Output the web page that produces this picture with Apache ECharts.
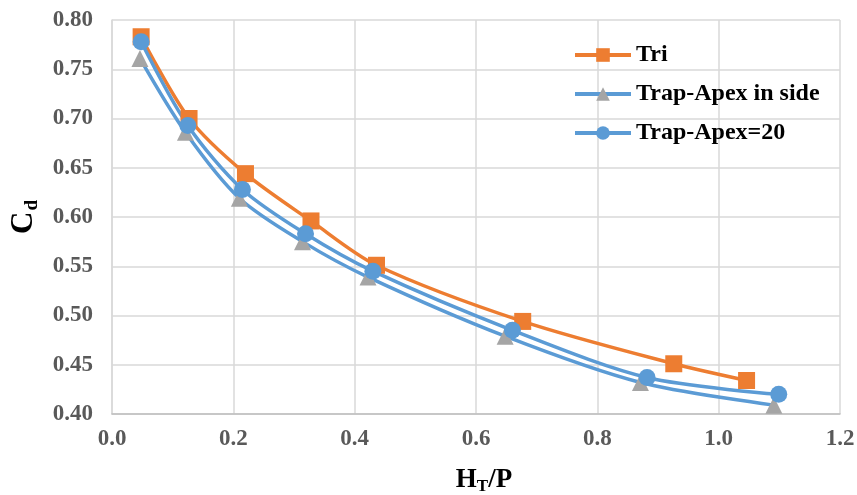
<!DOCTYPE html>
<html>
<head>
<meta charset="utf-8">
<script src="https://cdn.jsdelivr.net/npm/echarts@6/dist/echarts.min.js"></script>
<style>
  html, body { margin: 0; padding: 0; background: #fff; }
  #chart { width: 857px; height: 495px; }
</style>
</head>
<body>
<div id="chart"></div>
<script>
// Discharge coefficient Cd against relative head HT/P for three weir shapes
const seriesNames = ['Tri', 'Trap-Apex in side', 'Trap-Apex=20'];

const triX = [0.048, 0.127, 0.220, 0.328, 0.436, 0.677, 0.926, 1.046];
const triCd = [0.783, 0.700, 0.644, 0.596, 0.551, 0.494, 0.451, 0.434];

const sideX = [0.046, 0.121, 0.210, 0.314, 0.422, 0.648, 0.871, 1.091];
const sideCd = [0.761, 0.686, 0.619, 0.575, 0.539, 0.479, 0.432, 0.409];

const apexX = [0.048, 0.125, 0.215, 0.319, 0.430, 0.660, 0.882, 1.099];
const apexCd = [0.778, 0.693, 0.628, 0.583, 0.545, 0.485, 0.437, 0.420];

const pairs = (xs, ys) => xs.map((x, i) => [x, ys[i]]);

const font = '"Liberation Serif", "Times New Roman", serif';
const chart = echarts.init(document.getElementById('chart'), null, { renderer: 'canvas' });

chart.setOption({
  animation: false,
  backgroundColor: '#ffffff',
  grid: { left: 112, right: 17, top: 20, bottom: 81, containLabel: false, outerBoundsMode: 'none' },
  xAxis: {
    type: 'value', min: 0, max: 1.2, interval: 0.2,
    name: '{h|H}{s|T}{h|/P}', nameLocation: 'middle', nameGap: 52,
    nameTextStyle: {
      padding: [0, 0, 0, 16],
      rich: {
        h: { fontFamily: font, fontWeight: 'bold', fontSize: 27, color: '#000' },
        s: { fontFamily: font, fontWeight: 'bold', fontSize: 17, color: '#000', padding: [12, 0, 0, 0] }
      }
    },
    axisLine: { show: true, lineStyle: { color: '#BFBFBF', width: 1.5 } },
    axisTick: { show: false },
    splitLine: { show: true, lineStyle: { color: '#D9D9D9', width: 1.5 } },
    axisLabel: {
      margin: 14, color: '#595959', fontFamily: font, fontWeight: 'bold', fontSize: 23,
      formatter: v => v.toFixed(1)
    }
  },
  yAxis: {
    type: 'value', min: 0.40, max: 0.80, interval: 0.05,
    name: '{c|C}{s|d}', nameLocation: 'middle', nameGap: 70, nameRotate: 90,
    nameTextStyle: {
      rich: {
        c: { fontFamily: font, fontWeight: 'bold', fontSize: 31, color: '#000' },
        s: { fontFamily: font, fontWeight: 'bold', fontSize: 19, color: '#000', padding: [17, 0, 0, 1] }
      }
    },
    axisLine: { show: true, lineStyle: { color: '#D9D9D9', width: 1.5 } },
    axisTick: { show: false },
    splitLine: { show: true, lineStyle: { color: '#D9D9D9', width: 1.5 } },
    axisLabel: {
      margin: 19, color: '#595959', fontFamily: font, fontWeight: 'bold', fontSize: 23,
      formatter: v => v.toFixed(2)
    }
  },
  legend: {
    orient: 'vertical', left: 568, top: 38, itemGap: 15,
    itemWidth: 56, itemHeight: 17,
    lineStyle: { width: 4 },
    textStyle: { fontFamily: font, fontWeight: 'bold', fontSize: 24, color: '#000' },
    data: seriesNames
  },
  series: [
    {
      name: seriesNames[0], type: 'line', smooth: 0.3, data: pairs(triX, triCd),
      symbol: 'rect', symbolSize: 17,
      lineStyle: { color: '#ED7D31', width: 3.5 },
      itemStyle: { color: '#ED7D31' }
    },
    {
      name: seriesNames[1], type: 'line', smooth: 0.3, data: pairs(sideX, sideCd),
      symbol: 'triangle', symbolSize: 17,
      lineStyle: { color: '#5B9BD5', width: 3.5 },
      itemStyle: { color: '#A5A5A5' }
    },
    {
      name: seriesNames[2], type: 'line', smooth: 0.3, data: pairs(apexX, apexCd),
      symbol: 'circle', symbolSize: 17,
      lineStyle: { color: '#5B9BD5', width: 3.5 },
      itemStyle: { color: '#5B9BD5' }
    }
  ]
});
</script>
</body>
</html>
